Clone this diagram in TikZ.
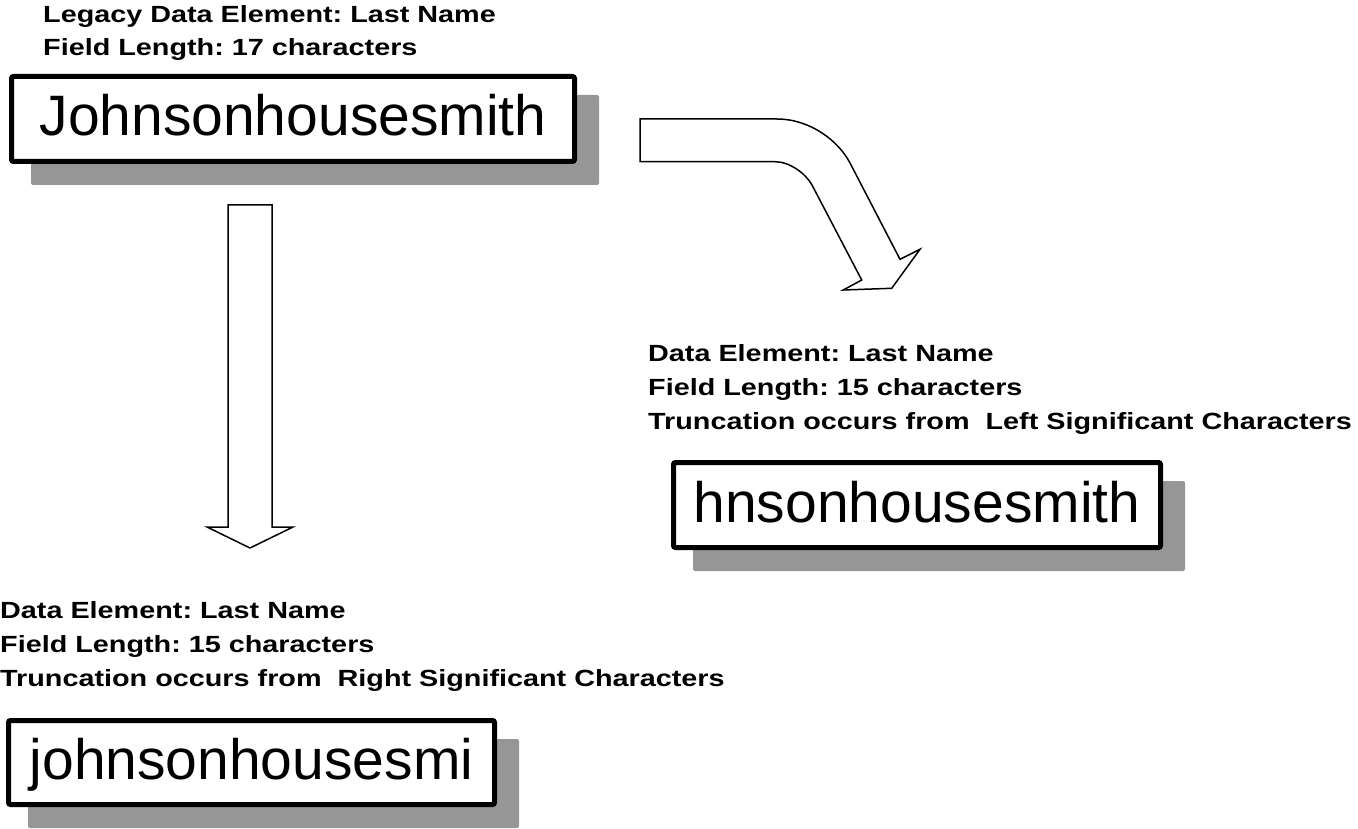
\documentclass[tikz,border=0pt]{standalone}
\usepackage{fontspec}
\setmainfont{Liberation Sans}
\newfontfamily\labelfont{Liberation Sans}[FakeStretch=1.23]
\usetikzlibrary{backgrounds,calc}
\definecolor{shadowgray}{RGB}{150,150,150}
\frenchspacing
\begin{document}
\begin{tikzpicture}[x=1pt,y=-1pt,
  namebox/.style={draw, line width=5pt, fill=white, rounded corners=2pt, inner sep=0pt,
    font=\fontsize{57}{60}\selectfont, text height=41pt, text depth=7pt},
  caption/.style={anchor=base west, inner sep=0pt,
    font=\labelfont\bfseries\fontsize{23.4}{25}\selectfont},
  blockarrow/.style={draw, line width=1.5pt, fill=white, line join=miter},
  shadowbox/.style={fill=shadowgray, rounded corners=2pt}]
\useasboundingbox (0,0) rectangle (1358,829);

% captions
\node[caption] (t1) at (43,23) {Legacy Data Element: Last Name};
\node[caption] (t2) at (43,56) {Field Length: 17 characters};

\node[caption] (r1) at (648,361) {Data Element: Last Name};
\node[caption] (r2) at (648,395) {Field Length: 15 characters};
\node[caption] (r3) at (648,429) {Truncation occurs from\ \ Left Significant Characters};

\node[caption] (l1) at (0,618) {Data Element: Last Name};
\node[caption] (l2) at (0,652) {Field Length: 15 characters};
\node[caption] (l3) at (0,686) {Truncation occurs from\ \ Right Significant Characters};

% boxes
\node[namebox, minimum width=563pt, minimum height=85pt] (b1) at (293,119) {Johnsonhousesmith};
\node[namebox, minimum width=487pt, minimum height=85pt] (b2) at (917,505) {hnsonhousesmith};
\node[namebox, minimum width=486pt, minimum height=84pt] (b3) at (251.5,762.5) {johnsonhousesmi};

\begin{scope}[on background layer]
  \foreach \b in {b1,b2,b3}
    \fill[shadowbox] ($(\b.north west)+(22,21)$) rectangle ($(\b.south east)+(22,21)$);
\end{scope}

% straight block arrow
\coordinate (va1) at (228,205);
\coordinate (va2) at (272,205);
\coordinate (vtip) at (250,548);
\draw[blockarrow] (va1) -- (va2) -- (272,527) -- (293,527) -- (vtip) -- (207,527) -- (228,527) -- cycle;

% bent block arrow
\coordinate (ca1) at (640,119);
\coordinate (ca2) at (640,161.7);
\coordinate (ctip) at (891.7,288.3);
\draw[blockarrow] (ca1) -- (777,119) .. controls (810,119) and (838.5,140.8) .. (850,163)
  -- (900,259.3) -- (920,249.3) -- (ctip) -- (843.3,290) -- (861.7,280) -- (812,185)
  .. controls (806,174) and (790,161.7) .. (775,161.7) -- (ca2) -- cycle;
\end{tikzpicture}
\end{document}
